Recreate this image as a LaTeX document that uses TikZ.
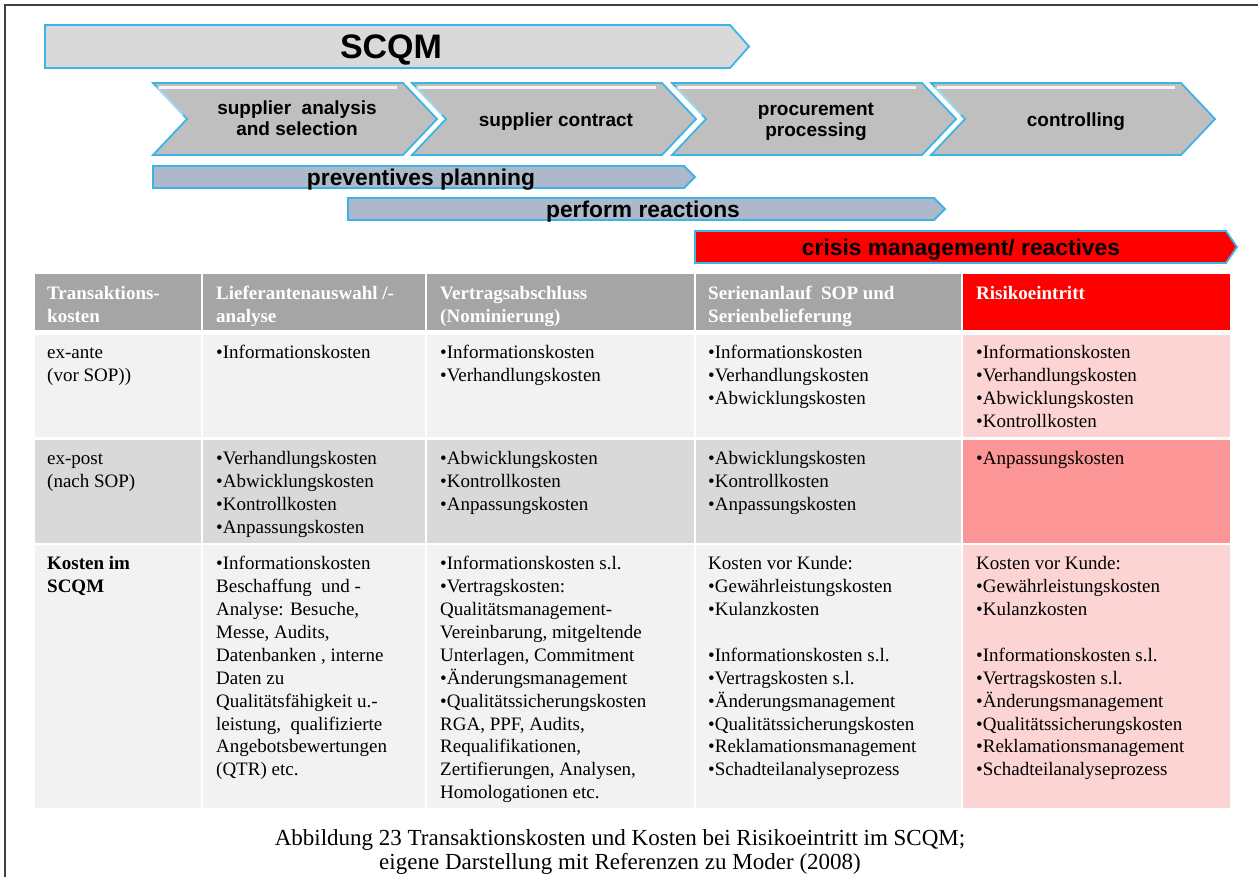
\documentclass[tikz,border=0pt]{standalone}
\usepackage{fontspec}
\setmainfont{Liberation Serif}
\newfontfamily\sansb{Liberation Sans}
\definecolor{edgeblue}{HTML}{3CB4E6}
\definecolor{barfill}{HTML}{D9D9D9}
\definecolor{chevfill}{HTML}{BFBFBF}
\definecolor{planfill}{HTML}{ADB9CA}
\definecolor{hdrgray}{HTML}{A5A5A5}
\definecolor{rowlight}{HTML}{F2F2F2}
\definecolor{rowdark}{HTML}{D9D9D9}
\definecolor{pinklight}{HTML}{FCD4D4}
\definecolor{pinkdark}{HTML}{FC9696}
\definecolor{framegray}{HTML}{404040}
\newcommand\mychevron[1]{%
  \filldraw[chevbox] (#1,83) -- ++(250,0) -- ++(34,36) -- ++(-34,36) -- ++(-250,0) -- ++(34,-36) -- cycle;
  \draw[white, opacity=0.85, line width=3.5pt] (#1+6,87.5) -- (#1+244,87.5);
  \draw[white, opacity=0.5, line width=2pt] (#1+4,87) -- (#1+30,115);
}
\begin{document}
\begin{tikzpicture}[x=1pt,y=-1pt,
  chevbox/.style={fill=chevfill, draw=edgeblue, line width=1.8pt, line join=miter},
  barbox/.style={draw=edgeblue, line width=1.8pt},
  chevtext/.style={font=\sansb\bfseries\fontsize{19}{21}\selectfont, align=center, inner sep=0pt},
  bartext/.style={font=\sansb\bfseries\fontsize{22.8}{26}\selectfont, inner sep=0pt},
  hdrtext/.style={anchor=north west, inner sep=0pt, align=left, text=white, font=\bfseries\fontsize{19}{22.9}\selectfont},
  celltext/.style={anchor=north west, inner sep=0pt, align=left, font=\fontsize{19}{22.9}\selectfont},
]
\useasboundingbox (0,0) rectangle (1258,877);
\fill[white] (0,0) rectangle (1258,877);
\draw[framegray, line width=2pt] (5,877) -- (5,5) -- (1258,5);

% SCQM bar
\filldraw[barbox, fill=barfill] (45,25) -- (730,25) -- (749,46.5) -- (730,68) -- (45,68) -- cycle;
\node[font=\sansb\bfseries\fontsize{34}{40}\selectfont, inner sep=0pt] (scqm) at (391,50) {SCQM};

% chevrons
\mychevron{153}
\mychevron{412}
\mychevron{672}
\mychevron{931}
\node[chevtext] (ch1) at (297,118.5) {supplier~~analysis\\and selection};
\node[chevtext] (ch2) at (556,122) {supplier contract};
\node[chevtext] (ch3) at (816,121.5) {procurement\\processing};
\node[chevtext] (ch4) at (1076,122) {controlling};

% phase bars
\filldraw[barbox, fill=planfill] (153,166) -- (684,166) -- (695,177) -- (684,188) -- (153,188) -- cycle;
\node[bartext] (prev) at (421,180) {preventives planning};
\filldraw[barbox, fill=planfill] (348,198) -- (934,198) -- (945,209) -- (934,220) -- (348,220) -- cycle;
\node[bartext] (perf) at (643,211.5) {perform reactions};
\filldraw[barbox, fill=red] (695,231) -- (1226,231) -- (1237,247) -- (1226,263) -- (695,263) -- cycle;
\node[bartext] (crisis) at (961,250) {crisis management/ reactives};

% table backgrounds
\fill[hdrgray] (35,274) rectangle (201,330);
\fill[hdrgray] (203,274) rectangle (425,330);
\fill[hdrgray] (427,274) rectangle (694,330);
\fill[hdrgray] (696,274) rectangle (961,330);
\fill[red] (963,274) rectangle (1230,330);

\fill[rowlight] (35,335) rectangle (201,437);
\fill[rowlight] (203,335) rectangle (425,437);
\fill[rowlight] (427,335) rectangle (694,437);
\fill[rowlight] (696,335) rectangle (961,437);
\fill[pinklight] (963,335) rectangle (1230,437);

\fill[rowdark] (35,440) rectangle (201,543);
\fill[rowdark] (203,440) rectangle (425,543);
\fill[rowdark] (427,440) rectangle (694,543);
\fill[rowdark] (696,440) rectangle (961,543);
\fill[pinkdark] (963,440) rectangle (1230,543);

\fill[rowlight] (35,545) rectangle (201,808);
\fill[rowlight] (203,545) rectangle (425,808);
\fill[rowlight] (427,545) rectangle (694,808);
\fill[rowlight] (696,545) rectangle (961,808);
\fill[pinklight] (963,545) rectangle (1230,808);

% header texts
\node[hdrtext] (h1) at (47,283.5) {\strut Transaktions-\\kosten};
\node[hdrtext] (h2) at (216,283.5) {\strut Lieferantenauswahl /-\\analyse};
\node[hdrtext] (h3) at (440,283.5) {\strut Vertragsabschluss\\(Nominierung)};
\node[hdrtext] (h4) at (708,283.5) {\strut Serienanlauf~ SOP und\\Serienbelieferung};
\node[hdrtext] (h5) at (976,283.5) {\strut Risikoeintritt};

% row 1
\node[celltext] (a1) at (47,342.5) {\strut ex-ante\\(vor SOP))};
\node[celltext] (a2) at (216,342.5) {\strut •Informationskosten};
\node[celltext] (a3) at (440,342.5) {\strut •Informationskosten\\•Verhandlungskosten};
\node[celltext] (a4) at (708,342.5) {\strut •Informationskosten\\•Verhandlungskosten\\•Abwicklungskosten};
\node[celltext] (a5) at (976,342.5) {\strut •Informationskosten\\•Verhandlungskosten\\•Abwicklungskosten\\•Kontrollkosten};

% row 2
\node[celltext] (b1) at (47,448.5) {\strut ex-post\\(nach SOP)};
\node[celltext] (b2) at (216,448.5) {\strut •Verhandlungskosten\\•Abwicklungskosten\\•Kontrollkosten\\•Anpassungskosten};
\node[celltext] (b3) at (440,448.5) {\strut •Abwicklungskosten\\•Kontrollkosten\\•Anpassungskosten};
\node[celltext] (b4) at (708,448.5) {\strut •Abwicklungskosten\\•Kontrollkosten\\•Anpassungskosten};
\node[celltext] (b5) at (976,448.5) {\strut •Anpassungskosten};

% row 3
\node[celltext, font=\bfseries\fontsize{19}{22.9}\selectfont] (c1) at (47,553.5) {\strut Kosten im\\SCQM};
\node[celltext] (c2) at (216,553.5) {\strut •Informationskosten\\Beschaffung~ und -\\Analyse: Besuche,\\Messe, Audits,\\Datenbanken , interne\\Daten zu\\Qualitätsfähigkeit u.-\\leistung,~ qualifizierte\\Angebotsbewertungen\\(QTR) etc.};
\node[celltext] (c3) at (440,553.5) {\strut •Informationskosten s.l.\\•Vertragskosten:\\Qualitätsmanagement-\\Vereinbarung, mitgeltende\\Unterlagen, Commitment\\•Änderungsmanagement\\•Qualitätssicherungskosten\\RGA, PPF, Audits,\\Requalifikationen,\\Zertifierungen, Analysen,\\Homologationen etc.};
\node[celltext] (c4) at (708,553.5) {\strut Kosten vor Kunde:\\•Gewährleistungskosten\\•Kulanzkosten\\[22.9pt]•Informationskosten s.l.\\•Vertragskosten s.l.\\•Änderungsmanagement\\•Qualitätssicherungskosten\\•Reklamationsmanagement\\•Schadteilanalyseprozess};
\node[celltext] (c5) at (976,553.5) {\strut Kosten vor Kunde:\\•Gewährleistungskosten\\•Kulanzkosten\\[22.9pt]•Informationskosten s.l.\\•Vertragskosten s.l.\\•Änderungsmanagement\\•Qualitätssicherungskosten\\•Reklamationsmanagement\\•Schadteilanalyseprozess};

% caption
\node[align=center, inner sep=0pt, font=\fontsize{23}{23.5}\selectfont] (cap) at (620,852) {Abbildung 23 Transaktionskosten und Kosten bei Risikoeintritt im SCQM;\\eigene Darstellung mit Referenzen zu Moder (2008)};
\end{tikzpicture}
\end{document}
